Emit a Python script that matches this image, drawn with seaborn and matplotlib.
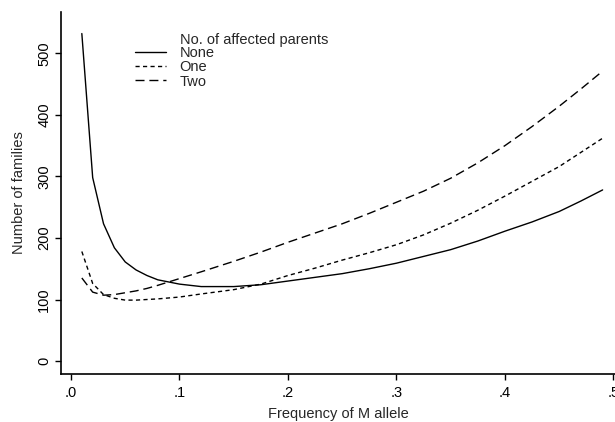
import matplotlib
matplotlib.use("Agg")
import matplotlib.pyplot as plt
import seaborn as sns
import pandas as pd
from matplotlib.lines import Line2D

freq = [0.01, 0.02, 0.03, 0.04, 0.05, 0.06, 0.07, 0.08, 0.10, 0.12, 0.15, 0.175,
        0.20, 0.225, 0.25, 0.275, 0.30, 0.325, 0.35, 0.375, 0.40, 0.425, 0.45,
        0.47, 0.49]
none_vals = [532, 298, 223, 184, 161, 148, 139, 132, 125, 121, 121, 124,
             130, 136, 142, 150, 159, 170, 181, 195, 211, 226, 243, 260, 278]
one_vals = [178, 126, 108, 102, 99, 99, 100, 101, 104, 109, 116, 125,
            139, 151, 164, 176, 189, 205, 224, 245, 268, 292, 316, 339, 362]
two_vals = [135, 112, 107, 108, 111, 114, 118, 123, 134, 145, 162, 177,
            193, 208, 223, 240, 258, 276, 297, 322, 350, 381, 414, 442, 471]
groups = ["None", "One", "Two"]
xticks = [0.0, 0.1, 0.2, 0.3, 0.4, 0.5]
xticklabels = [".0", ".1", ".2", ".3", ".4", ".5"]
yticks = [0, 100, 200, 300, 400, 500]

rows = []
for g, vals in zip(groups, [none_vals, one_vals, two_vals]):
    for x, y in zip(freq, vals):
        rows.append({"freq": x, "n": y, "group": g})
df = pd.DataFrame(rows)

sns.set_style("ticks")
plt.rcParams["font.family"] = ["Liberation Sans", "DejaVu Sans"]

fig = plt.figure(figsize=(6.15, 4.22), dpi=100)
ax = fig.add_axes([61 / 615, 1 - 374 / 422, 1 - 61 / 615, (374 - 12) / 422])

dash_one = (3, 2.4)
dash_two = (6.5, 3.5)
sns.lineplot(data=df, x="freq", y="n", hue="group", style="group",
             palette={"None": "black", "One": "black", "Two": "black"},
             dashes={"None": "", "One": dash_one, "Two": dash_two},
             linewidth=1.0, ax=ax, legend=False, sort=False)

ax.set_xlim(-0.0092, 0.5014)
ax.set_ylim(-21, 567)
ax.set_xticks(xticks)
ax.set_xticklabels(xticklabels)
ax.set_yticks(yticks)
ax.set_yticklabels([str(v) for v in yticks], rotation=90, va="center")
ax.tick_params(axis="both", direction="out", length=4.5, width=1.0,
               labelsize=10.5, color="black", labelcolor="black")
ax.tick_params(axis="x", pad=4)
ax.tick_params(axis="y", pad=2.5)
for side in ["top", "right"]:
    ax.spines[side].set_visible(False)
for side in ["left", "bottom"]:
    ax.spines[side].set_linewidth(1.2)
    ax.spines[side].set_color("black")

ax.set_xlabel("Frequency of M allele", fontsize=10.5, labelpad=5)
ax.set_ylabel("Number of families", fontsize=10.5, labelpad=8)

# legend
handles = [Line2D([], [], color="black", lw=1.0, linestyle="-"),
           Line2D([], [], color="black", lw=1.0, linestyle=(0, dash_one)),
           Line2D([], [], color="black", lw=1.0, linestyle=(0, dash_two))]
leg = ax.legend(handles, groups, loc="upper left",
                bbox_to_anchor=((135 - 61) / 554, (374 - 46) / 362),
                frameon=False, fontsize=10.5, handlelength=2.1,
                handletextpad=0.95, labelspacing=0.02, borderpad=0,
                borderaxespad=0)
ax.text((180 - 61) / 554, (374 - 40) / 362, "No. of affected parents",
        transform=ax.transAxes, fontsize=10.5, va="center", ha="left")

fig.savefig("out.png", dpi=100)
